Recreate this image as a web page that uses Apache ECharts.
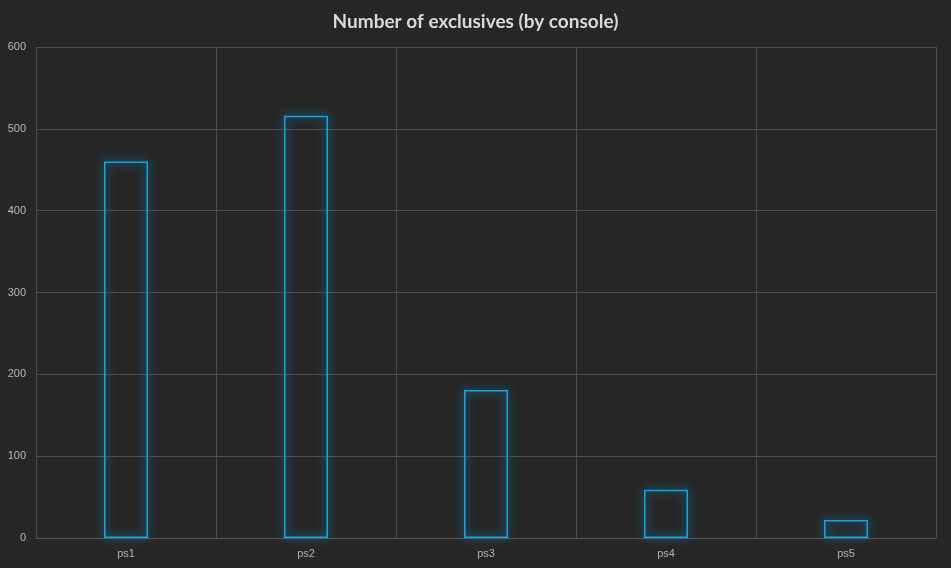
<!DOCTYPE html>
<html>
<head>
<meta charset="utf-8">
<script src="https://cdn.jsdelivr.net/npm/echarts@6/dist/echarts.min.js"></script>
<style>
html,body{margin:0;padding:0;background:#262626;}
#chart{width:951px;height:568px;}
</style>
</head>
<body>
<div id="chart"></div>
<script>
const categories = ['ps1', 'ps2', 'ps3', 'ps4', 'ps5'];
const exclusives = [460, 516, 181, 59, 22];
const yTicks = [0, 100, 200, 300, 400, 500, 600];

const chart = echarts.init(document.getElementById('chart'));
chart.setOption({
  backgroundColor: '#262626',
  animation: false,
  title: {
    text: 'Number of exclusives (by console)',
    left: 'center',
    top: 7,
    textStyle: { color: '#d9d9d9', fontFamily: 'Lato', fontWeight: 'bold', fontSize: 19 }
  },
  grid: { left: 36, right: 15, top: 47, bottom: 30 },
  xAxis: {
    type: 'category',
    data: categories,
    axisLine: { show: true, lineStyle: { color: '#555' } },
    axisTick: { show: false },
    axisLabel: { color: '#b0b0b0', fontSize: 11, fontFamily: 'Liberation Sans', margin: 10 },
    splitLine: { show: true, lineStyle: { color: '#4d4d4d', width: 1 } }
  },
  yAxis: {
    type: 'value',
    min: yTicks[0],
    max: yTicks[yTicks.length - 1],
    interval: 100,
    axisLine: { show: false },
    axisTick: { show: false },
    axisLabel: { color: '#b8b8b8', fontSize: 11, fontFamily: 'Liberation Sans', margin: 10 },
    splitLine: { show: true, lineStyle: { color: '#4d4d4d', width: 1 } }
  },
  series: [{
    type: 'bar',
    data: exclusives,
    barWidth: 44,
    itemStyle: {
      color: 'rgba(0,0,0,0)',
      borderColor: '#0ea5e9',
      borderWidth: 1.5,
      shadowColor: 'rgba(14,165,233,1)',
      shadowBlur: 10
    }
  }]
});
</script>
</body>
</html>
